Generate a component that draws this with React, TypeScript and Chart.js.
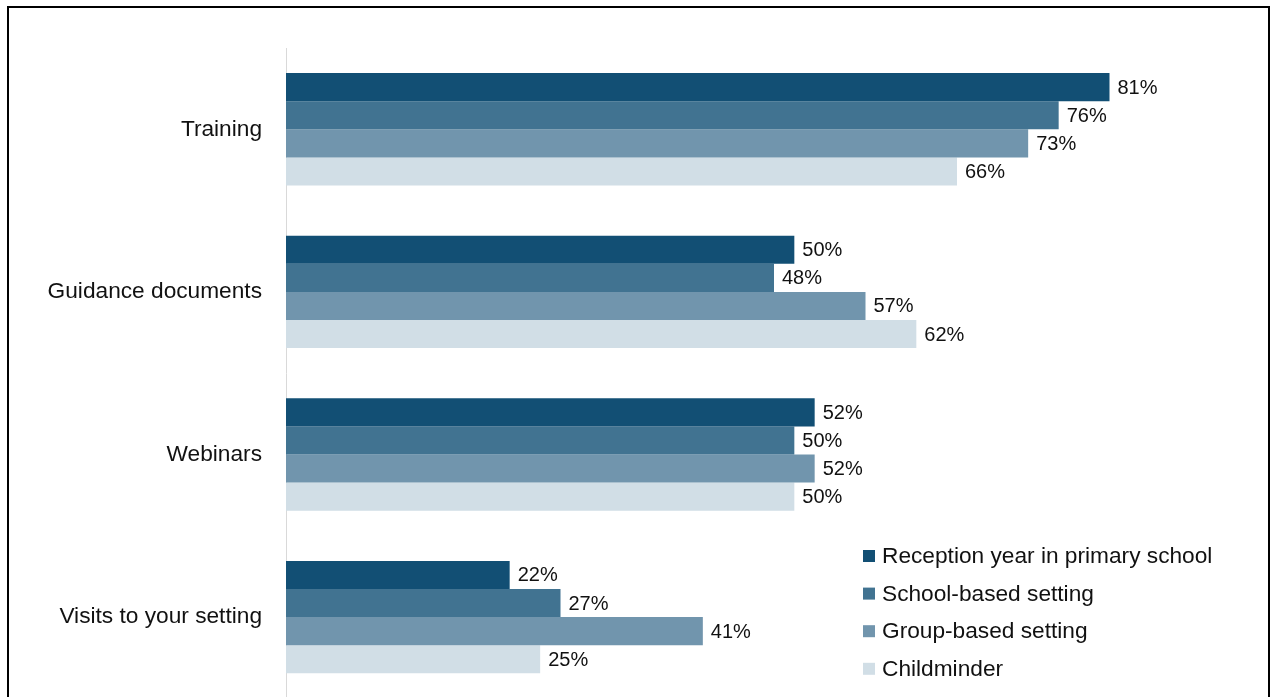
import React, { useEffect, useRef } from "react";
import { Chart, registerables } from "chart.js";

Chart.register(...registerables);

const categories = ["Training", "Guidance documents", "Webinars", "Visits to your setting"];
const seriesNames = [
  "Reception year in primary school",
  "School-based setting",
  "Group-based setting",
  "Childminder",
];
const receptionValues = [81, 50, 52, 22];
const schoolBasedValues = [76, 48, 50, 27];
const groupBasedValues = [73, 57, 52, 41];
const childminderValues = [66, 62, 50, 25];
const seriesColors = ["#124F74", "#417391", "#7195AD", "#D1DEE6"];

const FONT = "'Liberation Sans', Arial, sans-serif";
const CANVAS_H = 736;

const valueLabelPlugin = {
  id: "valueLabels",
  afterDatasetsDraw(chart: any) {
    const ctx = chart.ctx;
    ctx.save();
    ctx.font = `20px ${FONT}`;
    ctx.fillStyle = "#111";
    ctx.textAlign = "left";
    ctx.textBaseline = "middle";
    chart.data.datasets.forEach((ds: any, di: number) => {
      const meta = chart.getDatasetMeta(di);
      meta.data.forEach((el: any, i: number) => {
        ctx.fillText(`${ds.data[i]}%`, el.x + 8, el.y + 1);
      });
    });
    ctx.restore();
  },
};

const insideLegendPlugin = {
  id: "insideLegend",
  afterDraw(chart: any) {
    const ctx = chart.ctx;
    ctx.save();
    ctx.font = `22.7px ${FONT}`;
    ctx.textAlign = "left";
    ctx.textBaseline = "middle";
    const x0 = 863;
    const y0 = 556;
    const step = 37.6;
    chart.data.datasets.forEach((ds: any, i: number) => {
      const y = y0 + i * step;
      ctx.fillStyle = ds.backgroundColor;
      ctx.fillRect(x0, y - 6, 12, 12);
      ctx.fillStyle = "#111";
      ctx.fillText(ds.label, x0 + 19, y + 1);
    });
    ctx.restore();
  },
};

export default function App() {
  const canvasRef = useRef<HTMLCanvasElement | null>(null);

  useEffect(() => {
    if (!canvasRef.current) return;
    const datasetValues = [receptionValues, schoolBasedValues, groupBasedValues, childminderValues];
    const chart = new Chart(canvasRef.current, {
      type: "bar",
      data: {
        labels: categories,
        datasets: seriesNames.map((name, i) => ({
          label: name,
          data: datasetValues[i],
          backgroundColor: seriesColors[i],
          borderWidth: 0,
          barPercentage: 1,
          categoryPercentage: 0.691,
        })),
      },
      options: {
        indexAxis: "y",
        responsive: false,
        animation: false,
        devicePixelRatio: 1,
        layout: { padding: { top: 48, right: 9, bottom: 0, left: 0 } },
        plugins: {
          legend: { display: false },
          tooltip: { enabled: false },
        },
        scales: {
          x: {
            display: false,
            min: 0,
            max: 96,
          },
          y: {
            afterFit: (s: any) => {
              s.width = 286;
            },
            ticks: {
              color: "#111",
              padding: 24,
              font: { family: FONT, size: 22.7 },
            },
            grid: { display: true, drawOnChartArea: false, drawTicks: false, color: "transparent" },
            border: { display: true, color: "#D9D9D9", width: 1 },
          },
        },
      } as any,
      plugins: [valueLabelPlugin, insideLegendPlugin],
    });
    return () => chart.destroy();
  }, []);

  return (
    <div
      style={{
        position: "fixed",
        left: 0,
        top: 0,
        width: 1271,
        height: 697,
        overflow: "hidden",
        background: "#fff",
      }}
    >
      <canvas
        ref={canvasRef}
        width={1271}
        height={CANVAS_H}
        style={{ position: "absolute", left: 0, top: 0, width: 1271, height: CANVAS_H }}
      />
      <div
        style={{
          position: "absolute",
          left: 7,
          top: 6,
          width: 1263,
          height: 800,
          border: "2px solid #000",
          boxSizing: "border-box",
          pointerEvents: "none",
        }}
      />
    </div>
  );
}
